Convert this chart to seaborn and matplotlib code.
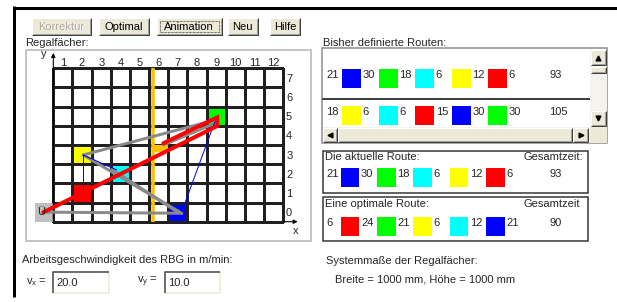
import matplotlib
matplotlib.use('Agg')
import matplotlib.pyplot as plt
from matplotlib.patches import Rectangle
from matplotlib.colors import ListedColormap
import pandas as pd
import seaborn as sns

# --- shelf grid (columns 1..12, rows 0..7) ---
col_labels = [str(c) for c in range(1, 13)]
row_labels = [str(r) for r in range(7, -1, -1)]

# stored items: colour and shelf position (column, row)
item_names = ['red', 'green', 'yellow', 'cyan', 'blue']
item_colors = ['#ff0000', '#00ff00', '#ffff00', '#00ffff', '#0000ff']
item_cols = [2, 9, 2, 4, 7]
item_rows = [1, 5, 3, 2, 0]

# drawn routes in shelf coordinates (column, row); column 0 = transfer point "Ü"
gray_segments = [
    [(0.0, 0.0), (7.2, -0.06)],
    [(2.06, 2.98), (7.2, -0.06)],
    [(3.55, 2.24), (7.02, -0.02)],
    [(2.06, 2.98), (8.93, 4.8)],
    [(6.24, 3.5), (8.93, 4.63)],
]
red_path_x = [-0.02, 9.05, 9.05, 6.24]
red_path_y = [-0.01, 4.49, 4.94, 3.59]
blue_segments = [
    [(2.06, 2.98), (2.06, 1.06)],
    [(2.06, 2.98), (3.8, 2.2)],
    [(7.2, 0.02), (8.93, 4.72)],
]
mast_col = 5.69
carriage_cols = [5.63, 6.5]
carriage_rows = [3.15, 3.5]

# --- route lists: items in visiting order, travel times [s], total time ---
route1_items = ['blue', 'green', 'cyan', 'yellow', 'red']
route1_times = [21, 30, 18, 6, 12, 6]
route1_total = 93
route2_items = ['yellow', 'cyan', 'red', 'blue', 'green']
route2_times = [18, 6, 6, 15, 30, 30]
route2_total = 105
current_items = route1_items
current_times = route1_times
current_total = route1_total
optimal_items = ['red', 'green', 'yellow', 'cyan', 'blue']
optimal_times = [6, 24, 21, 6, 12, 21]
optimal_total = 90

vx_value = '20.0'
vy_value = '10.0'

sns.set_theme(style='white')
plt.rcParams['font.family'] = ['Liberation Sans', 'DejaVu Sans']
FS = 8
color_of = dict(zip(item_names, item_colors))

fig = plt.figure(figsize=(6.17, 3.02), dpi=100)
fig.patch.set_facecolor('white')

# GUI layer in pixel coordinates
gui = fig.add_axes([0, 0, 1, 1])
gui.set_xlim(0, 617)
gui.set_ylim(302, 0)
gui.axis('off')
gui.set_zorder(0)

PX = 0.72  # one pixel in points


def line(xs, ys, c, w=1, **kw):
    gui.plot(xs, ys, color=c, lw=w * PX, solid_capstyle='butt', **kw)


def bevel(x0, y0, x1, y1, fc='#ece9d8'):
    gui.add_patch(Rectangle((x0, y0), x1 - x0, y1 - y0, fc=fc, ec='none'))
    line([x0, x0, x1], [y1, y0, y0], 'white')
    line([x0 + 1, x1 - 1, x1 - 1], [y1 - 1, y1 - 1, y0 + 1], '#a0a0a0')
    line([x0, x1, x1], [y1, y1, y0], '#404040')


def button(x0, y0, x1, y1, label, disabled=False, focus=False):
    bevel(x0, y0, x1, y1)
    if focus:
        gui.add_patch(Rectangle((x0, y0), x1 - x0, y1 - y0, fc='none', ec='black', lw=PX))
        gui.add_patch(Rectangle((x0 + 3, y0 + 3), x1 - x0 - 6, y1 - y0 - 6,
                                fc='none', ec='black', lw=0.5, ls=(0, (1, 1))))
    xc, yc = (x0 + x1) / 2, (y0 + y1) / 2
    if disabled:
        gui.text(xc + 1, yc + 1, label, ha='center', va='center', fontsize=FS, color='white')
        gui.text(xc, yc, label, ha='center', va='center', fontsize=FS, color='#aca899')
    else:
        gui.text(xc, yc, label, ha='center', va='center', fontsize=FS, color='black')


# outer frame
line([12.5, 617], [7.5, 7.5], 'black', 3)
line([13.5, 13.5], [6, 297], 'black', 3)

# buttons
button(32, 18, 90.7, 35, 'Korrektur', disabled=True)
button(98.7, 18, 149.3, 35, 'Optimal')
button(156.7, 18, 221.7, 35, 'Animation', focus=True)
button(227.7, 18, 257.7, 35, 'Neu')
button(270, 18, 300, 35, 'Hilfe')

# shelf panel
gui.text(25, 43, 'Regalfächer:', fontsize=FS, va='center')
gui.add_patch(Rectangle((25.5, 49.5), 285, 191, fc='white', ec='#c4c4c4', lw=2 * PX))

# list of defined routes
gui.text(323, 43, 'Bisher definierte Routen:', fontsize=FS, va='center')
gui.add_patch(Rectangle((321.7, 48.3), 285, 95, fc='white', ec='#8a8a8a', lw=1.5 * PX))
line([322, 590], [99, 99], '#404040', 2)
# vertical scrollbar
gui.add_patch(Rectangle((590, 49.5), 16.5, 77.5, fc='#f4f3ee', ec='none'))
bevel(591, 50, 605.7, 65)
gui.plot([598.3], [57.5], marker='^', ms=3.5, color='black')
bevel(591, 66.7, 605.7, 72.7)
bevel(591, 111, 605.7, 125.7)
gui.plot([598.3], [118.3], marker='v', ms=3.5, color='black')
# horizontal scrollbar
gui.add_patch(Rectangle((322.5, 127), 268, 15.5, fc='#f4f3ee', ec='none'))
bevel(322.7, 128, 337.3, 142)
gui.plot([330], [135], marker='<', ms=3.5, color='black')
bevel(338.3, 128, 571.7, 142)
bevel(573, 128, 588, 142)
gui.plot([580.5], [135], marker='>', ms=3.5, color='black')
gui.add_patch(Rectangle((590, 127), 16.5, 15.5, fc='#ece9d8', ec='none'))


def route_row(items, times, total, sq_x0, y_top, step=36.5):
    for k, name in enumerate(items):
        gui.add_patch(Rectangle((sq_x0 + k * step, y_top), 18.7, 19,
                                fc=color_of[name], ec='none'))
    yt = y_top + 5.8
    gui.text(326.5, yt, str(times[0]), fontsize=FS, va='center')
    for k in range(1, len(times)):
        gui.text(sq_x0 + (k - 1) * step + 20.3, yt, str(times[k]), fontsize=FS, va='center')
    gui.text(549.5, yt, str(total), fontsize=FS, va='center')


route_row(route1_items, route1_times, route1_total, 342.3, 69.3)
route_row(route2_items, route2_times, route2_total, 342.3, 106)

# current route box
gui.add_patch(Rectangle((322.7, 150.7), 265.6, 42.6, fc='white', ec='#333333', lw=1.5 * PX))
gui.text(325, 156.5, 'Die aktuelle Route:', fontsize=FS, va='center')
gui.text(523, 156.5, 'Gesamtzeit:', fontsize=FS, va='center')
route_row(current_items, current_times, current_total, 340.7, 168.3, step=36.3)

# optimal route box
gui.add_patch(Rectangle((322.7, 197.3), 265.6, 43.7, fc='white', ec='#333333', lw=1.5 * PX))
gui.text(325, 204, 'Eine optimale Route:', fontsize=FS, va='center')
gui.text(523, 204, 'Gesamtzeit', fontsize=FS, va='center')
route_row(optimal_items, optimal_times, optimal_total, 340.7, 216.7, step=36.3)

# speed inputs
gui.text(21.5, 260, 'Arbeitsgeschwindigkeit des RBG in m/min:', fontsize=FS, va='center')
for lbl, val, tx, bx in [('x', vx_value, 26, 52.7), ('y', vy_value, 137, 164.3)]:
    gui.text(tx, 282, r'$\mathregular{v_%s}$ =' % lbl, fontsize=FS, va='center')
    gui.add_patch(Rectangle((bx, 271.7), 56, 21, fc='white', ec='none'))
    line([bx, bx + 56, bx + 56], [292.7, 292.7, 271.7], '#ece9d8', 1.5)
    line([bx + 0.5, bx + 0.5, bx + 56], [292.7, 272.2, 272.2], '#404040', 1.5)
    gui.text(bx + 3.5, 282.5, val, fontsize=FS, va='center')

gui.text(326, 260.5, 'Systemmaße der Regalfächer:', fontsize=FS, va='center')
gui.text(335, 279.5, 'Breite = 1000 mm, Höhe = 1000 mm', fontsize=FS, va='center')

# --- shelf grid as a heatmap ---
ax = fig.add_axes([53.3 / 617, 1 - 221.7 / 302, 230 / 617, 153.4 / 302])
ax.set_zorder(1)
grid = pd.DataFrame(0, index=row_labels, columns=col_labels)
for k, (c, r) in enumerate(zip(item_cols, item_rows)):
    grid.loc[str(r), str(c)] = k + 1
cmap = ListedColormap(['white'] + item_colors)
sns.heatmap(grid, ax=ax, cmap=cmap, vmin=-0.5, vmax=5.5, cbar=False,
            linewidths=0.75, linecolor='#202020',
            xticklabels=col_labels, yticklabels=row_labels)
ax.collections[0].set_clip_on(False)
ax.xaxis.tick_top()
ax.yaxis.tick_right()
ax.tick_params(length=0, labelsize=FS, pad=0.5)
ax.tick_params(axis='y', pad=2, labelrotation=0)
for t in ax.get_yticklabels():
    t.set_horizontalalignment('left')


def hx(c):
    return [v - 0.5 for v in c]


def hy(r):
    return [7.5 - v for v in r]


# transfer point Ü
ax.add_patch(Rectangle((-0.955, 7.04), 0.955, 0.96, fc='#c0c0c0', ec='none', clip_on=False, zorder=2))
ax.text(-0.82, 7.5, 'Ü', fontsize=FS, va='center', ha='left', zorder=8)

# axes arrows
ax.annotate('', xy=(0, -0.8), xytext=(0, 8.0), annotation_clip=False,
            arrowprops=dict(arrowstyle='-|>', color='black', lw=0.8, mutation_scale=6,
                            shrinkA=0, shrinkB=0))
ax.annotate('', xy=(12.75, 8.0), xytext=(12, 8.0), annotation_clip=False,
            arrowprops=dict(arrowstyle='-|>', color='black', lw=0.8, mutation_scale=6,
                            shrinkA=0, shrinkB=0))
ax.text(-0.5, -0.75, 'y', fontsize=FS, ha='center', va='center')
ax.text(12.66, 8.5, 'x', fontsize=FS, ha='center', va='center')

# storage/retrieval machine mast and carriage
ax.plot(hx([mast_col, mast_col]), [0, 8], color='#ffc000', lw=3.5 * PX, zorder=3,
        solid_capstyle='butt', clip_on=False)
ax.add_patch(Rectangle((carriage_cols[0] - 0.5, 7.5 - carriage_rows[1]),
                       carriage_cols[1] - carriage_cols[0], carriage_rows[1] - carriage_rows[0],
                       fc='#ffc000', ec='none', zorder=3))

for seg in gray_segments:
    xs, ys = zip(*seg)
    ax.plot(hx(xs), hy(ys), color='#8a8a8a', lw=3 * PX, zorder=4, clip_on=False)
for seg in blue_segments:
    xs, ys = zip(*seg)
    ax.plot(hx(xs), hy(ys), color='#0000ff', lw=1 * PX, zorder=5)
ax.plot(hx(red_path_x), hy(red_path_y), color='#ff0000', lw=4 * PX, zorder=6,
        clip_on=False, solid_joinstyle='miter')

fig.savefig('out.png', dpi=100)
